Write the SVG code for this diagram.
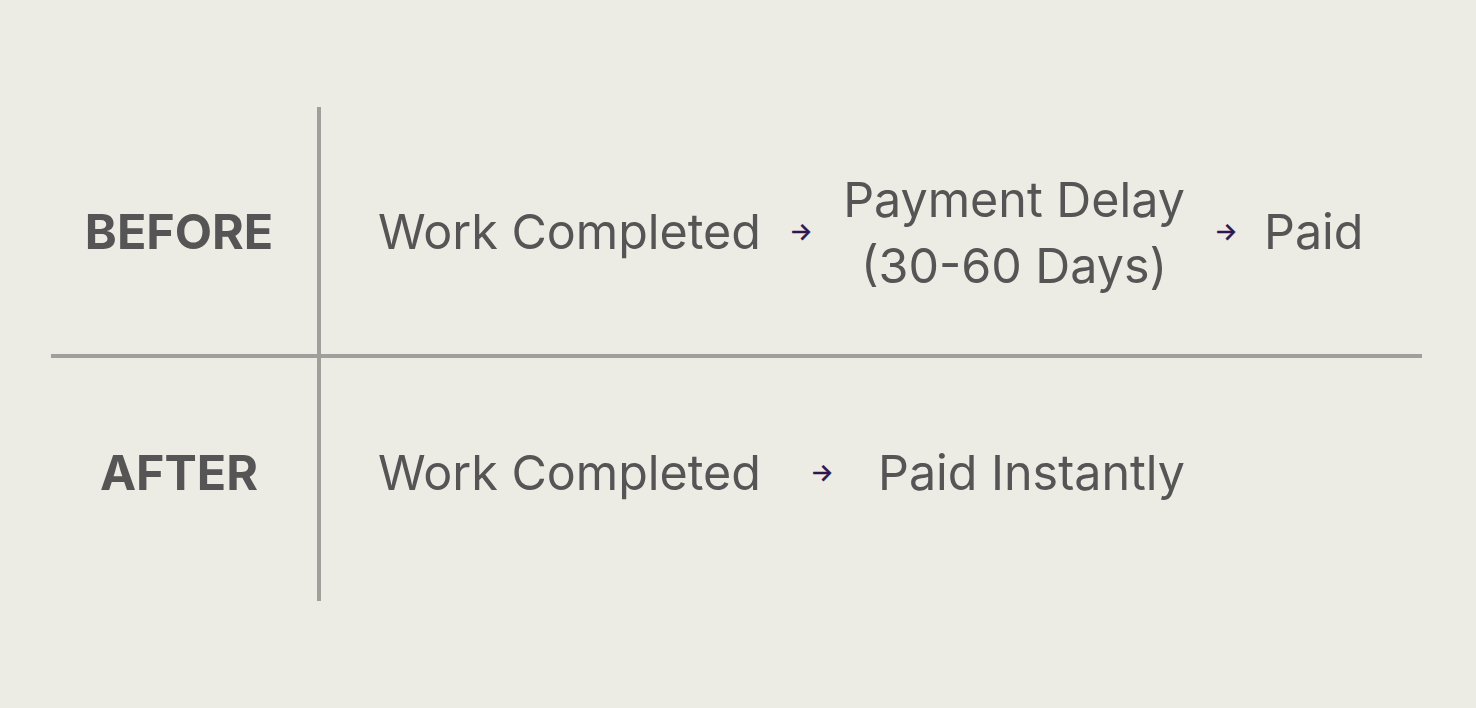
<svg xmlns="http://www.w3.org/2000/svg" width="1476" height="708" viewBox="0 0 1476 708">
<style>
.lbl{font-family:Inter,"Noto Sans","Liberation Sans",sans-serif;font-size:48.4px;fill:#555555}
.hd{font-family:Inter,"Noto Sans","Liberation Sans",sans-serif;font-size:48.4px;font-weight:700;fill:#555555;text-anchor:middle}
.arr{font-family:Inter,"DejaVu Sans",sans-serif;font-size:24px;fill:#2e1650;stroke:#2e1650;stroke-width:0.7;text-anchor:middle}
.rule{stroke:#a09f9b;stroke-width:4;fill:none}
</style>
<rect width="1476" height="708" fill="#ecebe4"/>
<g id="grid">
<line class="rule" x1="319" y1="107" x2="319" y2="601"/>
<line class="rule" x1="51" y1="356" x2="1422" y2="356"/>
</g>
<g id="before-label"><text class="hd" x="179" y="249">BEFORE</text></g>
<g id="after-label"><text class="hd" x="179" y="490">AFTER</text></g>
<g id="before-work"><text class="lbl" x="378" y="249">Work Completed</text></g>
<g id="before-delay"><text class="lbl" x="1014" y="217" text-anchor="middle">Payment Delay</text><text class="lbl" x="1014" y="283" text-anchor="middle">(30-60 Days)</text></g>
<g id="before-paid"><text class="lbl" x="1264" y="249">Paid</text></g>
<g id="after-work"><text class="lbl" x="378" y="490">Work Completed</text></g>
<g id="after-paid"><text class="lbl" x="878" y="490">Paid Instantly</text></g>
<g id="connectors">
<text class="arr" x="801" y="240">→</text>
<text class="arr" x="1226" y="240">→</text>
<text class="arr" x="822" y="481">→</text>
</g>
</svg>
